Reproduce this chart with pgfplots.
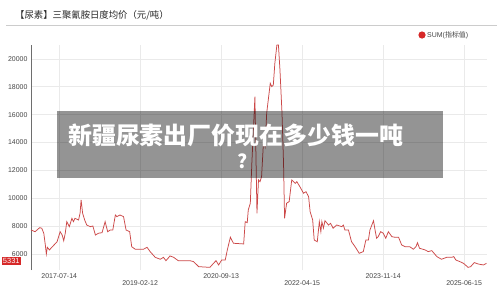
\documentclass[border=0pt]{standalone}
\usepackage{pgfplots}
\pgfplotsset{compat=1.18}
\usepackage{fontspec}
\setmainfont{Liberation Sans}
\newfontfamily\cjk{Noto Sans CJK SC}
\definecolor{linered}{RGB}{204,72,72}
\definecolor{legred}{RGB}{214,40,40}
\definecolor{gridgray}{RGB}{234,234,234}
\definecolor{axisgray}{RGB}{110,110,110}
\definecolor{ticktext}{RGB}{70,70,70}
\definecolor{titlegray}{RGB}{40,40,40}
\begin{document}
\begin{tikzpicture}[x=1bp,y=1bp]
\useasboundingbox (0,0) rectangle (500,290);
\fill[white] (0,0) rectangle (500,290);
\node[anchor=west, font=\cjk\fontsize{9.4}{10}\selectfont, text=titlegray, inner sep=0] at (15,275) {【尿素】三聚氰胺日度均价（元/吨）};
\draw[gray!40, line width=0.8bp] (6,265) -- (497,265);
\fill[legred] (422,255) circle (3.6);
\node[anchor=west, font=\fontsize{7}{8}\selectfont, text=ticktext, inner sep=0] at (427,255) {SUM({\cjk 指标值})};
\begin{axis}[
  at={(31bp,20bp)}, anchor=south west, scale only axis,
  width=456bp, height=225bp,
  xmin=2016.98, xmax=2025.90, ymin=4850, ymax=21000,
  xtick={2017.532,2020.699,2023.868},
  xticklabels={2017-07-14,2020-09-13,2023-11-14},
  extra x ticks={2019.115,2022.285,2025.452},
  extra x tick labels={2019-02-12,2022-04-15,2025-06-15},
  extra x tick style={grid=major, xticklabel style={yshift=-7bp}},
  ytick={6000,8000,...,20000},
  scaled y ticks=false,
  grid=major,
  major grid style={draw=gridgray, line width=0.6bp},
  axis y line*=left, axis x line*=bottom,
  x axis line style={draw=none},
  y axis line style={draw=axisgray, line width=0.7bp},
  major tick length=0,
  tick label style={font=\fontsize{7}{8}\selectfont, text=ticktext},
  /pgf/number format/1000 sep={},
  /pgf/number format/assume math mode=true,
  clip=false,
]
\addplot[linered, line width=0.75bp, mark=none] coordinates {
(2016.98,7720) (2017.06,7600) (2017.15,7890) (2017.19,7850) (2017.23,7490)
(2017.26,6650) (2017.28,6000) (2017.30,6480) (2017.34,6290) (2017.37,6410)
(2017.49,6880) (2017.55,7600) (2017.59,7360) (2017.62,6950) (2017.65,7490)
(2017.68,8320) (2017.73,7960) (2017.78,8560) (2017.81,8320) (2017.84,8560)
(2017.91,8440) (2017.94,8920) (2017.96,9880) (2017.99,8920) (2018.03,8440)
(2018.07,8080) (2018.14,7960) (2018.19,8010) (2018.24,7360) (2018.30,7490)
(2018.37,7530) (2018.43,8320) (2018.48,7600) (2018.53,7720) (2018.58,7720)
(2018.63,8800) (2018.66,8680) (2018.72,8800) (2018.79,8680) (2018.84,7720)
(2018.91,7600) (2018.95,6520) (2019.02,6340) (2019.12,6340) (2019.18,6340)
(2019.25,6480) (2019.31,6170) (2019.41,5760) (2019.51,5620) (2019.57,5760)
(2019.62,5520) (2019.70,5860) (2019.77,5760) (2019.86,5520) (2020.09,5520)
(2020.16,5450) (2020.26,5090) (2020.48,5040) (2020.55,5330) (2020.60,5520)
(2020.65,5210) (2020.71,5570) (2020.78,5570) (2020.82,6290) (2020.88,7200)
(2020.94,6770) (2021.14,6720) (2021.17,8320) (2021.21,8250) (2021.23,9160)
(2021.27,9640) (2021.30,12510) (2021.33,14900) (2021.36,17290) (2021.40,8920)
(2021.43,11310) (2021.46,11190) (2021.49,11550) (2021.53,14180) (2021.56,13700)
(2021.59,16100) (2021.66,18250) (2021.69,18010) (2021.72,18130) (2021.75,19690)
(2021.79,21000) (2021.82,21000) (2021.85,19210) (2021.89,16100) (2021.92,12510)
(2021.94,8560) (2021.98,9640) (2022.03,9760) (2022.08,11310) (2022.15,11070)
(2022.18,11190) (2022.24,10830) (2022.31,10360) (2022.36,10470) (2022.41,10110)
(2022.44,9040) (2022.49,8440) (2022.52,7000) (2022.58,6880) (2022.62,8320)
(2022.65,7600) (2022.67,8320) (2022.70,7850) (2022.73,8390) (2022.80,8080)
(2022.84,8200) (2022.89,7850) (2022.96,8080) (2023.06,7960) (2023.09,8080)
(2023.12,7720) (2023.19,7720) (2023.25,6880) (2023.32,6520) (2023.40,6050)
(2023.48,6170) (2023.53,7000) (2023.58,7000) (2023.61,7720) (2023.68,8390)
(2023.71,7720) (2023.74,7130) (2023.77,7240) (2023.82,7600) (2023.87,7490)
(2023.92,7130) (2023.97,7600) (2024.04,7240) (2024.10,7200) (2024.17,7200)
(2024.23,6650) (2024.30,6520) (2024.39,6520) (2024.46,6340) (2024.51,6520)
(2024.54,6810) (2024.58,6410) (2024.69,6290) (2024.75,6170) (2024.82,6240)
(2024.92,5810) (2025.01,5620) (2025.11,5760) (2025.21,5760) (2025.25,5810)
(2025.29,5570) (2025.37,5450) (2025.44,5330) (2025.53,5040) (2025.58,5090)
(2025.65,5380) (2025.73,5280) (2025.83,5210) (2025.89,5331)
};
\node[anchor=east, xshift=-10bp, yshift=2.5bp, fill=legred, text=white, inner xsep=1.2bp, inner ysep=1.5bp, font=\fontsize{7.5}{8}\selectfont] at (axis cs:2016.98,5331) {5331};
\end{axis}
\fill[black, opacity=0.42] (57,112) rectangle (443,179);
\node[anchor=west, font=\cjk\bfseries\fontsize{24}{26}\selectfont, text=white, inner sep=0] at (68,155) {新疆尿素出厂价现在多少钱一吨};
\node[font=\cjk\bfseries\fontsize{19}{20}\selectfont, text=white, inner sep=0] at (243,129) {?};
\end{tikzpicture}
\end{document}
